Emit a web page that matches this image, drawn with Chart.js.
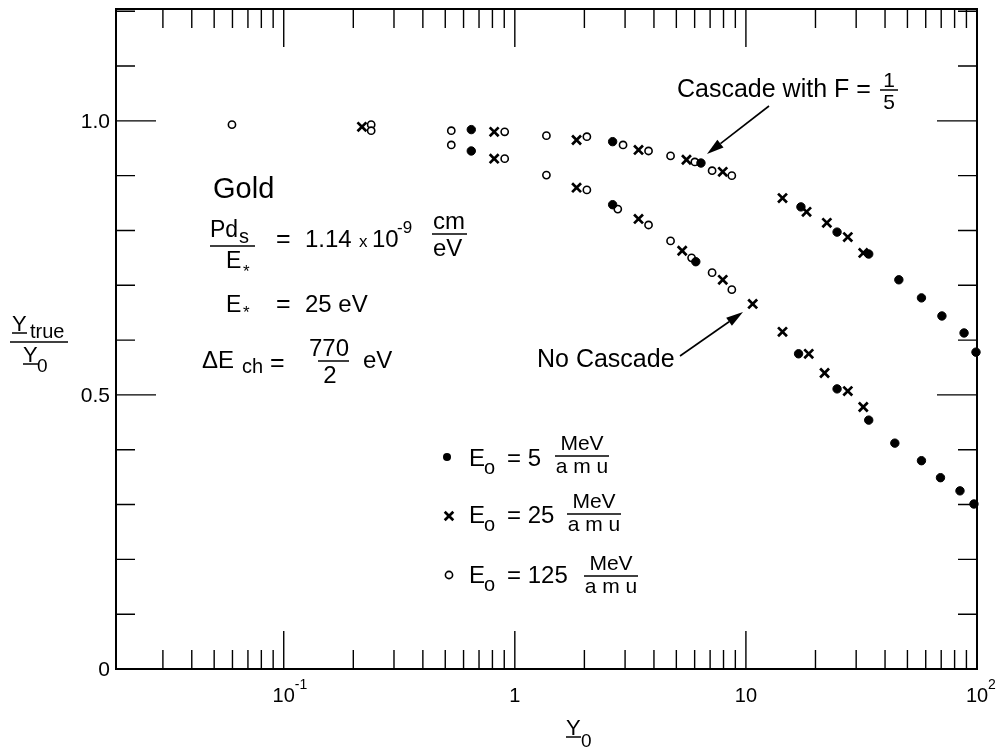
<!DOCTYPE html>
<html>
<head>
<meta charset="utf-8">
<script src="https://cdn.jsdelivr.net/npm/chart.js@4/dist/chart.umd.min.js"></script>
<style>
  body { margin: 0; background: #fff; }
  canvas { display: block; }
</style>
</head>
<body>
<canvas id="chart" width="997" height="748"></canvas>
<script>
// Y0 and Ytrue/Y0, one pair per marker
const x5MeV = [0.648, 0.648, 2.65, 2.65, 6.39, 6.07, 17.3, 16.9, 24.8, 24.8, 34.0, 34.0, 45.9, 44.1, 57.5, 57.5, 70.5, 69.5, 87.9, 84.4, 99, 97];
const y5MeV = [0.984, 0.945, 0.962, 0.847, 0.923, 0.743, 0.843, 0.575, 0.797, 0.511, 0.757, 0.454, 0.710, 0.412, 0.677, 0.380, 0.644, 0.349, 0.613, 0.325, 0.578, 0.301];

const x25MeV = [0.218, 0.814, 0.814, 1.85, 1.85, 3.43, 3.43, 5.53, 5.30, 7.94, 7.94, 10.7, 14.4, 14.4, 18.3, 18.7, 22.4, 21.9, 27.6, 27.6, 32.2, 32.2];
const y25MeV = [0.989, 0.980, 0.931, 0.965, 0.878, 0.947, 0.821, 0.929, 0.763, 0.907, 0.710, 0.666, 0.859, 0.615, 0.834, 0.575, 0.814, 0.540, 0.788, 0.507, 0.759, 0.478];

const x125MeV = [0.0597, 0.239, 0.239, 0.531, 0.531, 0.904, 0.904, 1.37, 1.37, 2.05, 2.05, 2.94, 2.79, 3.79, 3.79, 4.72, 4.72, 6.01, 5.82, 7.14, 7.14, 8.69, 8.69];
const y125MeV = [0.993, 0.993, 0.982, 0.982, 0.956, 0.980, 0.931, 0.973, 0.901, 0.971, 0.874, 0.956, 0.839, 0.945, 0.810, 0.936, 0.781, 0.925, 0.750, 0.909, 0.723, 0.900, 0.692];

// axis ticks
const xMajorTicks = [0.1, 1, 10, 100];
const xMajorLabels = [['10', '-1'], ['1', ''], ['10', ''], ['10', '2']];
const yTickValues = [0, 0.1, 0.2, 0.3, 0.4, 0.5, 0.6, 0.7, 0.8, 0.9, 1.0, 1.1, 1.2];
const yMajorTicks = [0.5, 1.0];
const yTickLabels = [[0, '0'], [0.5, '0.5'], [1.0, '1.0']];

const xMinorTicks = [];
[0.01, 0.1, 1, 10].forEach(d => {
    for (let k = 2; k <= 9; k++) xMinorTicks.push(+(d * k).toPrecision(3));
});

const FONT = '"Liberation Sans", Arial, Helvetica, sans-serif';

function pts(xs, ys) {
    return xs.map((x, i) => ({ x: x, y: ys[i] }));
}

function txt(ctx, s, x, y, size, align) {
    ctx.font = size + 'px ' + FONT;
    ctx.textAlign = align || 'left';
    ctx.textBaseline = 'alphabetic';
    ctx.fillText(s, x, y);
}

function hline(ctx, x1, x2, y, w) {
    ctx.lineWidth = w || 1.5;
    ctx.beginPath();
    ctx.moveTo(x1, y);
    ctx.lineTo(x2, y);
    ctx.stroke();
}

function arrow(ctx, x1, y1, x2, y2) {
    const a = Math.atan2(y2 - y1, x2 - x1);
    const len = 17, half = 5;
    const bx = x2 - len * Math.cos(a), by = y2 - len * Math.sin(a);
    ctx.lineWidth = 1.6;
    ctx.beginPath();
    ctx.moveTo(x1, y1);
    ctx.lineTo(bx, by);
    ctx.stroke();
    ctx.beginPath();
    ctx.moveTo(x2, y2);
    ctx.lineTo(bx + half * Math.sin(a), by - half * Math.cos(a));
    ctx.lineTo(bx - half * Math.sin(a), by + half * Math.cos(a));
    ctx.closePath();
    ctx.fill();
}

function marker(ctx, kind, x, y) {
    ctx.beginPath();
    if (kind === 'dot') {
        ctx.arc(x, y, 4, 0, Math.PI * 2);
        ctx.fill();
    } else if (kind === 'ring') {
        ctx.lineWidth = 1.6;
        ctx.arc(x, y, 3.6, 0, Math.PI * 2);
        ctx.stroke();
    } else {
        const r = 4.3;
        ctx.lineWidth = 2.7;
        ctx.moveTo(x - r, y - r); ctx.lineTo(x + r, y + r);
        ctx.moveTo(x - r, y + r); ctx.lineTo(x + r, y - r);
        ctx.stroke();
    }
}

const framePlugin = {
    id: 'frame',
    afterDraw(chart) {
        const ctx = chart.ctx;
        const { left, right, top, bottom } = chart.chartArea;
        const xs = chart.scales.x, ys = chart.scales.y;
        ctx.save();
        ctx.strokeStyle = '#000';
        ctx.fillStyle = '#000';

        // frame
        ctx.lineWidth = 2;
        ctx.strokeRect(left, top, right - left, bottom - top);

        // x ticks, bottom and top, pointing inward
        ctx.lineWidth = 1.4;
        xs.ticks.forEach(t => {
            const px = xs.getPixelForValue(t.value);
            if (px <= left + 8 || px >= right - 1) return;
            const len = xMajorTicks.includes(t.value) ? 38 : 19;
            ctx.beginPath();
            ctx.moveTo(px, bottom); ctx.lineTo(px, bottom - len);
            ctx.moveTo(px, top); ctx.lineTo(px, top + len);
            ctx.stroke();
        });

        // y ticks, left and right
        ys.ticks.forEach(t => {
            const py = ys.getPixelForValue(t.value);
            if (py >= bottom - 1 || py <= top + 1) return;
            const len = yMajorTicks.includes(t.value) ? 40 : 19;
            ctx.beginPath();
            ctx.moveTo(left, py); ctx.lineTo(left + len, py);
            ctx.moveTo(right, py); ctx.lineTo(right - len, py);
            ctx.stroke();
        });

        // tick labels
        yTickLabels.forEach(([v, s]) => {
            ctx.font = '21px ' + FONT;
            ctx.textAlign = 'right';
            ctx.textBaseline = 'middle';
            ctx.fillText(s, left - 6, ys.getPixelForValue(v) + 1);
        });
        xMajorTicks.forEach((v, i) => {
            const px = xs.getPixelForValue(v);
            const [base, sup] = xMajorLabels[i];
            txt(ctx, base, px, 702, 20, 'center');
            if (sup) {
                ctx.font = '20px ' + FONT;
                const w = ctx.measureText(base).width;
                txt(ctx, sup, px + w / 2, 689, 14, 'left');
            }
        });

        // axis titles
        txt(ctx, 'Y', 566, 735, 22);
        hline(ctx, 566, 581, 737, 1.5);
        txt(ctx, '0', 581, 747, 19);

        txt(ctx, 'Y', 12, 331, 22);
        hline(ctx, 12, 27, 333, 1.5);
        txt(ctx, 'true', 30, 338, 20);
        hline(ctx, 10, 68, 342, 1.5);
        txt(ctx, 'Y', 23, 362, 22);
        hline(ctx, 23, 38, 364, 1.5);
        txt(ctx, '0', 37, 372, 19);

        // Gold block
        txt(ctx, 'Gold', 213, 198, 29);

        txt(ctx, 'Pd', 210, 237, 23);
        txt(ctx, 's', 239, 243, 20);
        hline(ctx, 210, 255, 246, 1.5);
        txt(ctx, 'E', 226, 268, 23);
        txt(ctx, '*', 243, 277, 17);
        txt(ctx, '=', 276, 247, 25);
        txt(ctx, '1.14', 305, 247, 24);
        txt(ctx, 'x', 359, 247, 17);
        txt(ctx, '10', 372, 247, 24);
        txt(ctx, '-9', 397, 233, 17);
        txt(ctx, 'cm', 433, 229, 24);
        hline(ctx, 432, 467, 234, 1.5);
        txt(ctx, 'eV', 433, 256, 24);

        txt(ctx, 'E', 226, 312, 23);
        txt(ctx, '*', 243, 318, 17);
        txt(ctx, '=', 276, 312, 25);
        txt(ctx, '25 eV', 305, 312, 24);

        txt(ctx, '\u0394E', 202, 368, 24);
        txt(ctx, 'ch', 242, 373, 20);
        txt(ctx, '=', 270, 371, 25);
        txt(ctx, '770', 329, 356, 24, 'center');
        hline(ctx, 318, 349, 361, 1.5);
        txt(ctx, '2', 330, 383, 24, 'center');
        txt(ctx, 'eV', 363, 368, 24);

        // legend
        const rows = [
            ['dot', 447, 457, '= 5', 466, 582, 456],
            ['cross', 449, 516, '= 25', 523, 594, 514],
            ['ring', 449, 575, '= 125', 583, 611, 576]
        ];
        rows.forEach(([kind, mx, my, val, base, cx, bar]) => {
            marker(ctx, kind, mx, my);
            txt(ctx, 'E', 469, base, 24);
            txt(ctx, 'o', 484, base + 8, 20);
            txt(ctx, val, 507, base, 24);
            txt(ctx, 'MeV', cx, bar - 6, 21, 'center');
            hline(ctx, cx - 27, cx + 27, bar, 1.5);
            txt(ctx, 'a m u', cx, bar + 17, 21, 'center');
        });

        // annotations
        txt(ctx, 'Cascade with F =', 677, 97, 25);
        txt(ctx, '1', 889, 87, 21, 'center');
        hline(ctx, 880, 898, 90, 1.5);
        txt(ctx, '5', 889, 109, 21, 'center');
        arrow(ctx, 769, 106, 707, 154);

        txt(ctx, 'No Cascade', 537, 367, 25);
        arrow(ctx, 680, 356, 743, 312);

        ctx.restore();
    }
};

new Chart(document.getElementById('chart'), {
    type: 'scatter',
    data: {
        datasets: [
            {
                label: 'E0 = 5 MeV/amu',
                data: pts(x5MeV, y5MeV),
                pointStyle: 'circle',
                pointRadius: 4.2,
                backgroundColor: '#000',
                borderColor: '#000',
                borderWidth: 1,
                clip: false
            },
            {
                label: 'E0 = 25 MeV/amu',
                data: pts(x25MeV, y25MeV),
                pointStyle: 'crossRot',
                pointRadius: 6.3,
                borderColor: '#000',
                borderWidth: 2.7,
                clip: false
            },
            {
                label: 'E0 = 125 MeV/amu',
                data: pts(x125MeV, y125MeV),
                pointStyle: 'circle',
                pointRadius: 3.6,
                backgroundColor: '#fff',
                borderColor: '#000',
                borderWidth: 1.6,
                clip: false
            }
        ]
    },
    options: {
        responsive: false,
        animation: false,
        events: [],
        layout: { padding: { top: 9, right: 20, left: 0, bottom: 0 } },
        plugins: { legend: { display: false }, tooltip: { enabled: false } },
        scales: {
            x: {
                type: 'logarithmic',
                min: 0.0188,
                max: 100,
                grid: { display: false },
                border: { display: false },
                ticks: { display: false },
                afterBuildTicks: s => {
                    s.ticks = xMinorTicks.concat(xMajorTicks).map(v => ({ value: v }));
                },
                afterFit: s => { s.height = 79; }
            },
            y: {
                type: 'linear',
                min: 0,
                max: 1.204,
                grid: { display: false },
                border: { display: false },
                ticks: { display: false },
                afterBuildTicks: s => {
                    s.ticks = yTickValues.map(v => ({ value: v }));
                },
                afterFit: s => { s.width = 116; }
            }
        }
    },
    plugins: [framePlugin]
});
</script>
</body>
</html>
